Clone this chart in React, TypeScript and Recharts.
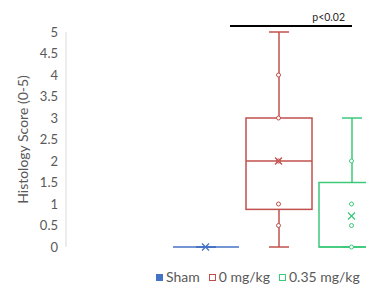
import { ComposedChart, Bar, Line, XAxis, YAxis, Legend } from "recharts";

// box-and-whisker stats per group
const categories = ["Sham", "0 mg/kg", "0.35 mg/kg"];
const minValues = [0, 0, 0];
const q1Values = [0, 0.875, 0];
const medianValues = [0, 2, 0];
const q3Values = [0, 3, 1.5];
const maxValues = [0, 5, 3];
const meanValues = [0, 2, 0.72];
const innerPoints: number[][] = [[], [0.5, 1, 2, 3, 4], [0, 0.5, 1, 2]];
const yTicks = [0, 0.5, 1, 1.5, 2, 2.5, 3, 3.5, 4, 4.5, 5];

const colors = ["#4472c4", "#c0504d", "#3cc97a"];
const FONT = "Lato, 'Open Sans', sans-serif";
const POINT_KEYS = [0, 1, 2, 3, 4].map((i) => `p${i}`);

const data = categories.map((name, i) => {
    const row: any = {
        name,
        range: [minValues[i], maxValues[i]],
        q1: q1Values[i],
        median: medianValues[i],
        q3: q3Values[i],
        mean: meanValues[i],
    };
    innerPoints[i].forEach((v, j) => {
        row[`p${j}`] = v;
    });
    return row;
});

function BoxShape(props: any) {
    const { x, y, width, height, payload } = props;
    const idx = categories.indexOf(payload.name);
    const color = colors[idx];
    const [lo, hi] = payload.range;
    const top = Math.min(y, y + height);
    const h = Math.abs(height);
    const span = hi - lo;
    const toY = (v: number) => (span === 0 ? top : top + (h * (hi - v)) / span);
    const cx = x + width / 2;
    const yTop = toY(payload.q3);
    const yBot = toY(payload.q1);
    const yMed = toY(payload.median);
    const cap = 10;
    return (
        <g>
            <line x1={cx} x2={cx} y1={toY(hi)} y2={yTop} stroke={color} strokeWidth={1.5} />
            <line x1={cx} x2={cx} y1={yBot} y2={toY(lo)} stroke={color} strokeWidth={1.5} />
            <line x1={cx - cap} x2={cx + cap} y1={toY(hi)} y2={toY(hi)} stroke={color} strokeWidth={1.5} />
            <line x1={cx - cap} x2={cx + cap} y1={toY(lo)} y2={toY(lo)} stroke={color} strokeWidth={1.5} />
            {yBot - yTop > 0 && (
                <rect x={x} y={yTop} width={width} height={yBot - yTop} fill="none" stroke={color} strokeWidth={1.5} />
            )}
            <line x1={x} x2={x + width} y1={yMed} y2={yMed} stroke={color} strokeWidth={1.5} />
        </g>
    );
}

function renderPoint(p: any) {
    const key = `${p.dataKey}-${p.index}`;
    if (p.cy == null || p.value == null) return <g key={key} />;
    return <circle key={key} cx={p.cx} cy={p.cy} r={2} fill="#fff" stroke={colors[p.index]} strokeWidth={1} />;
}

function renderMean(p: any) {
    const key = `mean-${p.index}`;
    if (p.cy == null) return <g key={key} />;
    const s = 3.5;
    const c = colors[p.index];
    return (
        <g key={key}>
            <line x1={p.cx - s} x2={p.cx + s} y1={p.cy - s} y2={p.cy + s} stroke={c} strokeWidth={1.2} />
            <line x1={p.cx - s} x2={p.cx + s} y1={p.cy + s} y2={p.cy - s} stroke={c} strokeWidth={1.2} />
        </g>
    );
}

function LegendContent() {
    return (
        <div
            style={{
                display: "flex",
                alignItems: "center",
                fontFamily: FONT,
                fontSize: 14,
                lineHeight: "16px",
                color: "#595959",
                whiteSpace: "nowrap",
            }}
        >
            {categories.map((c, i) => (
                <span key={c} style={{ display: "flex", alignItems: "center", marginRight: 9 }}>
                    <span
                        style={{
                            width: 7,
                            height: 7,
                            boxSizing: "border-box",
                            background: i === 0 ? colors[0] : "#fff",
                            border: `1px solid ${colors[i]}`,
                            marginRight: 3,
                        }}
                    />
                    {c}
                </span>
            ))}
        </div>
    );
}

export default function App() {
    return (
        <div
            style={{
                margin: "-8px -8px 0 -8px",
                width: 374,
                height: 289,
                overflow: "hidden",
                position: "relative",
                background: "#fff",
            }}
        >
            <ComposedChart width={400} height={289} data={data} margin={{ top: 32, right: 0, bottom: 42, left: 0 }}>
                <XAxis dataKey="name" type="category" hide padding={{ left: 103, right: 12 }} />
                <YAxis
                    width={66}
                    domain={[0, 5]}
                    ticks={yTicks}
                    interval={0}
                    tickLine={false}
                    axisLine={{ stroke: "#d9d9d9" }}
                    tick={{ fill: "#595959", fontSize: 13, fontFamily: FONT }}
                    label={{
                        value: "Histology Score (0-5)",
                        angle: -90,
                        position: "center",
                        dx: -10,
                        style: { fill: "#595959", fontSize: 14, fontFamily: FONT, textAnchor: "middle" },
                    }}
                />
                <Bar dataKey="range" barSize={66} shape={BoxShape} isAnimationActive={false} legendType="none" />
                {POINT_KEYS.map((k) => (
                    <Line
                        key={k}
                        dataKey={k}
                        stroke="none"
                        dot={renderPoint}
                        activeDot={false}
                        legendType="none"
                        isAnimationActive={false}
                    />
                ))}
                <Line dataKey="mean" stroke="none" dot={renderMean} activeDot={false} legendType="none" isAnimationActive={false} />
                <Legend
                    verticalAlign="middle"
                    align="center"
                    content={<LegendContent />}
                    wrapperStyle={{ position: "absolute", left: 156, top: 269, width: "auto", height: "auto", overflow: "visible" }}
                />
            </ComposedChart>
            <svg width={374} height={40} style={{ position: "absolute", left: 0, top: 0 }}>
                <line x1={230} x2={352} y1={26} y2={26} stroke="#000" strokeWidth={2} />
                <text x={345} y={21} textAnchor="end" fontFamily={FONT} fontSize={10.5} fill="#262626">
                    p&lt;0.02
                </text>
            </svg>
        </div>
    );
}
